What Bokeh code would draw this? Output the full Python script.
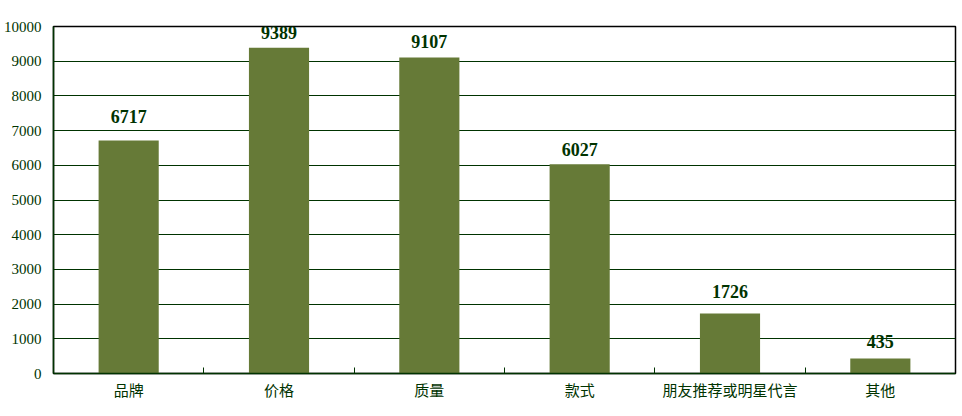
from bokeh.plotting import figure
from bokeh.models import ColumnDataSource, FixedTicker, Range1d, LabelSet
from bokeh.embed import file_html
from bokeh.resources import INLINE

categories = ["品牌", "价格", "质量", "款式", "朋友推荐或明星代言", "其他"]
values = [6717, 9389, 9107, 6027, 1726, 435]
y_ticks = [0, 1000, 2000, 3000, 4000, 5000, 6000, 7000, 8000, 9000, 10000]

label_offsets = [17, 9, 9, 8, 16, 10]

GREEN_DARK = "#003300"
BAR = "#667a37"

xs = [i + 0.5 for i in range(len(categories))]
src = ColumnDataSource(dict(x=xs, top=values, label=[str(v) for v in values],
                            off=label_offsets))

p = figure(frame_width=902, frame_height=347, width=952, height=400,
           output_backend="svg", toolbar_location=None,
           x_range=Range1d(0, len(categories)), y_range=Range1d(0, 10000),
           min_border_left=46, min_border_top=26, min_border_right=4, min_border_bottom=27)
p.background_fill_color = "white"
p.border_fill_color = "white"
p.outline_line_color = "black"
p.outline_line_width = 1.5

p.vbar(x="x", top="top", width=0.4, source=src, color=BAR, line_color=None)

labels = LabelSet(x="x", y="top", text="label", source=src, y_offset="off",
                  text_align="center", text_baseline="alphabetic",
                  text_font="Liberation Serif", text_font_style="bold",
                  text_font_size="18px", text_color=GREEN_DARK)
p.add_layout(labels)

# x axis
p.xaxis.ticker = FixedTicker(ticks=xs, minor_ticks=[i for i in range(1, len(categories))])
p.xaxis.major_label_overrides = {x: c for x, c in zip(xs, categories)}
p.xaxis.major_tick_line_color = None
p.xaxis.major_tick_in = 0
p.xaxis.major_tick_out = 0
p.xaxis.minor_tick_in = 6
p.xaxis.minor_tick_out = 0
p.xaxis.minor_tick_line_color = GREEN_DARK
p.xaxis.axis_line_color = GREEN_DARK
p.xaxis.axis_line_width = 1.5
p.xaxis.major_label_text_font = "Noto Sans CJK SC"
p.xaxis.major_label_text_font_size = "15px"
p.xaxis.major_label_text_color = GREEN_DARK
p.xaxis.major_label_standoff = 5

# y axis
p.yaxis.ticker = FixedTicker(ticks=y_ticks)
p.yaxis.major_tick_out = 0
p.yaxis.major_tick_in = 0
p.yaxis.minor_tick_line_color = None
p.yaxis.axis_line_color = GREEN_DARK
p.yaxis.axis_line_width = 1.5
p.yaxis.major_label_text_font = "Liberation Serif"
p.yaxis.major_label_text_font_size = "15px"
p.yaxis.major_label_text_color = GREEN_DARK
p.yaxis.major_label_standoff = 12

p.xgrid.grid_line_color = None
p.ygrid.ticker = FixedTicker(ticks=y_ticks)
p.ygrid.grid_line_color = GREEN_DARK
p.ygrid.grid_line_width = 1.2

open("out.html", "w").write(file_html(p, INLINE))
